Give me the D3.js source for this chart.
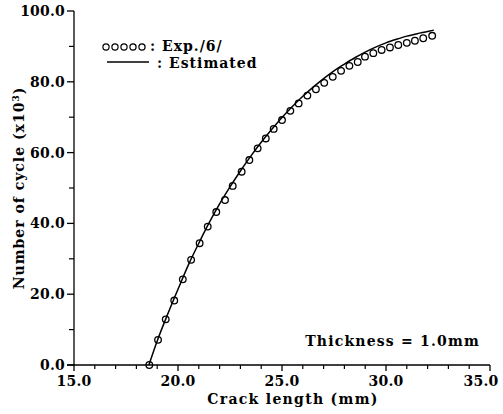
<!DOCTYPE html>
<html>
<head>
<meta charset="utf-8">
<script src="https://cdn.jsdelivr.net/npm/d3@7"></script>
<style>
  html, body { margin: 0; padding: 0; background: #fff; }
  svg { display: block; }
  text { font-family: "DejaVu Serif", serif; font-weight: bold; fill: #000; }
</style>
</head>
<body>
<svg id="chart" width="503" height="414"></svg>
<script>
// Experimental points: crack length (mm) vs number of cycles (x10^3)
const expCrack = [18.62, 19.04, 19.41, 19.82, 20.23, 20.63, 21.04, 21.43, 21.84, 22.26,
  22.63, 23.06, 23.43, 23.83, 24.22, 24.60, 25.00, 25.40, 25.80, 26.22,
  26.63, 27.03, 27.44, 27.84, 28.24, 28.64, 28.99, 29.39, 29.79, 30.19,
  30.59, 31.00, 31.39, 31.79, 32.22];
const expCycles = [0.0, 7.1, 12.9, 18.2, 24.2, 29.7, 34.4, 39.1, 43.2, 46.6,
  50.6, 54.6, 57.9, 61.2, 64.0, 66.7, 69.2, 71.8, 73.9, 76.1,
  77.9, 79.7, 81.4, 83.1, 84.5, 85.6, 87.1, 88.1, 89.0, 89.7,
  90.4, 91.0, 91.6, 92.3, 93.0];

// Estimated curve
const estCrack = [18.6, 19.0, 19.5, 20.0, 20.5, 21.0, 21.5, 22.0, 22.5, 23.0,
  23.5, 24.0, 24.5, 25.0, 25.5, 26.0, 26.5, 27.0, 27.5, 28.0,
  28.5, 29.0, 29.5, 30.0, 30.5, 31.0, 31.5, 32.0, 32.3];
const estCycles = [0.0, 6.8, 14.3, 21.4, 28.3, 34.4, 40.2, 45.5, 50.3, 54.8,
  59.0, 62.9, 66.5, 69.9, 73.0, 75.9, 78.5, 80.9, 83.1, 85.0,
  86.8, 88.4, 89.8, 91.0, 92.0, 92.9, 93.6, 94.2, 94.6];

// Axis ticks
const xMajorTicks = [15, 20, 25, 30, 35];
const xTickLabels = ["15.0", "20.0", "25.0", "30.0", "35.0"];
const yMajorTicks = [0, 20, 40, 60, 80, 100];
const yTickLabels = ["0.0", "20.0", "40.0", "60.0", "80.0", "100.0"];

const svg = d3.select("#chart");
const x = d3.scaleLinear().domain([15, 35]).range([74, 490]);
const y = d3.scaleLinear().domain([0, 100]).range([365, 11]);

const fs = 14;

// X axis
const gx = svg.append("g").attr("transform", `translate(0,${y(0)})`);
gx.append("line").attr("x1", x(15) - 7).attr("x2", x(35)).attr("y1", 0).attr("y2", 0)
  .attr("stroke", "#000").attr("stroke-width", 1.3);
gx.selectAll("line.minor").data(d3.range(16, 35).filter(v => v % 5 !== 0)).join("line")
  .attr("class", "minor").attr("x1", d => x(d)).attr("x2", d => x(d))
  .attr("y1", 0).attr("y2", 4).attr("stroke", "#000").attr("stroke-width", 1.2);
gx.selectAll("line.major").data(xMajorTicks).join("line")
  .attr("class", "major").attr("x1", d => x(d)).attr("x2", d => x(d))
  .attr("y1", 0).attr("y2", 6).attr("stroke", "#000").attr("stroke-width", 1.3);
gx.selectAll("text").data(xMajorTicks).join("text")
  .attr("x", (d, i) => i === xMajorTicks.length - 1 ? x(d) - 9 : x(d))
  .attr("y", 21).attr("text-anchor", "middle").attr("letter-spacing", 0.2)
  .attr("font-size", fs).text((d, i) => xTickLabels[i]);

// Y axis
const gy = svg.append("g").attr("transform", `translate(${x(15)},0)`);
gy.append("line").attr("x1", 0).attr("x2", 0).attr("y1", y(0)).attr("y2", y(100))
  .attr("stroke", "#000").attr("stroke-width", 1.3);
gy.selectAll("line.minor").data(d3.range(10, 100, 20)).join("line")
  .attr("class", "minor").attr("x1", -5).attr("x2", 0)
  .attr("y1", d => y(d)).attr("y2", d => y(d)).attr("stroke", "#000").attr("stroke-width", 1.2);
gy.selectAll("line.major").data(yMajorTicks).join("line")
  .attr("class", "major").attr("x1", -7).attr("x2", 0)
  .attr("y1", d => y(d)).attr("y2", d => y(d)).attr("stroke", "#000").attr("stroke-width", 1.3);
gy.selectAll("text").data(yMajorTicks).join("text")
  .attr("x", -9).attr("y", d => y(d)).attr("dy", "0.36em").attr("text-anchor", "end")
  .attr("letter-spacing", 0.2).attr("font-size", fs).text((d, i) => yTickLabels[i]);

// Axis titles
svg.append("text").attr("x", 293).attr("y", 404).attr("text-anchor", "middle")
  .attr("font-size", fs).attr("letter-spacing", 1.3).text("Crack length (mm)");
const yTitle = svg.append("text").attr("transform", "translate(24,188) rotate(-90)")
  .attr("text-anchor", "middle").attr("font-size", fs).attr("letter-spacing", 1.0);
yTitle.append("tspan").text("Number of cycle (x10");
yTitle.append("tspan").attr("dy", -5).attr("font-size", 9).text("3");
yTitle.append("tspan").attr("dy", 5).text(")");

// Estimated curve
const line = d3.line().x(d => x(d[0])).y(d => y(d[1])).curve(d3.curveMonotoneX);
svg.append("path").datum(d3.zip(estCrack, estCycles))
  .attr("d", line).attr("fill", "none").attr("stroke", "#000").attr("stroke-width", 1.5);

// Experimental points
svg.selectAll("circle.exp").data(d3.zip(expCrack, expCycles)).join("circle")
  .attr("class", "exp").attr("cx", d => x(d[0])).attr("cy", d => y(d[1]))
  .attr("r", 3.3).attr("fill", "none").attr("stroke", "#000").attr("stroke-width", 1.3);

// Legend
const legend = svg.append("g");
legend.selectAll("circle").data(d3.range(5)).join("circle")
  .attr("cx", d => 106 + d * 9).attr("cy", 47).attr("r", 3.1)
  .attr("fill", "none").attr("stroke", "#000").attr("stroke-width", 1.2);
legend.append("text").attr("x", 150).attr("y", 51).attr("font-size", fs)
  .attr("letter-spacing", 1).attr("xml:space", "preserve").text(": Exp./6/");
legend.append("line").attr("x1", 107).attr("x2", 149).attr("y1", 62).attr("y2", 62)
  .attr("stroke", "#000").attr("stroke-width", 1.3);
legend.append("text").attr("x", 157).attr("y", 68).attr("font-size", fs)
  .attr("letter-spacing", 1).attr("xml:space", "preserve").text(": Estimated");

// Annotation
svg.append("text").attr("x", 480).attr("y", 346).attr("text-anchor", "end")
  .attr("font-size", fs).attr("letter-spacing", 1.2).text("Thickness = 1.0mm");
</script>
</body>
</html>
